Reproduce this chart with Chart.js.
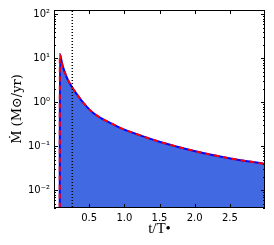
<!DOCTYPE html>
<html><head><meta charset="utf-8">
<script src="https://cdn.jsdelivr.net/npm/chart.js@4/dist/chart.umd.min.js"></script>
<style>html,body{margin:0;padding:0;background:#fff;}</style>
</head><body>
<canvas id="c" width="274" height="245"></canvas>
<script>
// Data
const tValues    = [0.081, 0.083, 0.12, 0.176, 0.215, 0.26, 0.357, 0.452, 0.546, 0.688, 0.83, 0.973, 1.164, 1.5, 1.78, 2.07, 2.49, 3.0];
const mdotValues = [0.001, 12.4, 7.0, 3.9, 2.85, 2.18, 1.30, 0.84, 0.594, 0.42, 0.324, 0.25, 0.193, 0.128, 0.096, 0.074, 0.054, 0.040];
const markerT = [0.26];
const xTickValues = [0.5, 1.0, 1.5, 2.0, 2.5];
const xTickLabels = ['0.5', '1.0', '1.5', '2.0', '2.5'];
const yTickValues = [0.01, 0.1, 1, 10, 100];
const yTickLabels = ['10\u207B\u00B2', '10\u207B\u00B9', '10\u2070', '10\u00B9', '10\u00B2'];
const yMinorMultipliers = [2, 3, 4, 5, 6, 7, 8, 9];
const xRange = [0, 3];
const yRange = [0.004, 125];

const points = tValues.map((t, i) => ({x: t, y: mdotValues[i]}));
const markerPoints = [{x: markerT[0], y: yRange[0] / 10}, {x: markerT[0], y: yRange[1] * 10}];

const framePlugin = {
  id: 'frame',
  afterDatasetsDraw(chart) {
    const {ctx, chartArea: a, scales: {x, y}} = chart;
    ctx.save();
    ctx.strokeStyle = '#000';
    ctx.lineWidth = 1;
    ctx.beginPath();
    xTickValues.forEach(v => {
      const px = Math.round(x.getPixelForValue(v)) + 0.5;
      ctx.moveTo(px, a.bottom); ctx.lineTo(px, a.bottom - 4);
      ctx.moveTo(px, a.top); ctx.lineTo(px, a.top + 4);
    });
    yTickValues.forEach(v => {
      const py = Math.round(y.getPixelForValue(v)) + 0.5;
      ctx.moveTo(a.left, py); ctx.lineTo(a.left + 4, py);
      ctx.moveTo(a.right, py); ctx.lineTo(a.right - 4, py);
    });
    [0.001].concat(yTickValues).forEach(base => {
      yMinorMultipliers.forEach(m => {
        const v = base * m;
        if (v < yRange[0] || v > yRange[1]) return;
        const py = Math.round(y.getPixelForValue(v)) + 0.5;
        ctx.moveTo(a.left, py); ctx.lineTo(a.left + 2, py);
        ctx.moveTo(a.right, py); ctx.lineTo(a.right - 2, py);
      });
    });
    ctx.stroke();
    ctx.strokeRect(a.left + 0.5, a.top + 0.5, a.right - a.left - 1, a.bottom - a.top - 1);
    ctx.restore();
  }
};

new Chart(document.getElementById('c'), {
  type: 'line',
  data: {
    datasets: [
      {label: 'marker', data: markerPoints, borderColor: '#000', borderWidth: 1.5, borderDash: [1, 2],
       pointRadius: 0, fill: false, order: 0},
      {label: 'fit', data: points, borderColor: '#ff0000', borderWidth: 2, borderDash: [5, 4],
       pointRadius: 0, fill: false, order: 1, cubicInterpolationMode: 'monotone'},
      {label: 'mdot', data: points, borderColor: '#0000ff', borderWidth: 2, backgroundColor: 'rgb(65,105,225)',
       fill: 'start', pointRadius: 0, order: 2, cubicInterpolationMode: 'monotone'}
    ]
  },
  options: {
    responsive: false,
    animation: false,
    devicePixelRatio: 1,
    layout: {padding: {top: 9, right: 9, left: 0, bottom: 0}},
    plugins: {legend: {display: false}, tooltip: {enabled: false}},
    scales: {
      x: {
        type: 'linear', min: xRange[0], max: xRange[1],
        grid: {display: false, drawTicks: false}, border: {display: false},
        afterBuildTicks: s => { s.ticks = xTickValues.map(v => ({value: v})); },
        afterFit: s => { s.height = 37; },
        ticks: {padding: 4, color: '#000', font: {family: 'DejaVu Sans', size: 10},
                callback: (v, i) => xTickLabels[i], maxRotation: 0, autoSkip: false},
        title: {display: true, text: 't/T\u2022', color: '#000',
                font: {family: 'Liberation Serif', size: 15}, padding: {top: 0, bottom: 7}}
      },
      y: {
        type: 'logarithmic', min: yRange[0], max: yRange[1],
        grid: {display: false, drawTicks: false}, border: {display: false},
        afterBuildTicks: s => { s.ticks = yTickValues.map(v => ({value: v})); },
        afterFit: s => { s.width = 54; },
        ticks: {padding: 4, color: '#000', font: {family: 'DejaVu Sans', size: 10},
                callback: (v, i) => yTickLabels[i], autoSkip: false},
        title: {display: true, text: '\u1E40 (M\u2299/yr)', color: '#000',
                font: {family: 'DejaVu Serif', size: 13}, padding: {top: 10, bottom: 0}}
      }
    }
  },
  plugins: [framePlugin]
});
</script>
</body></html>
